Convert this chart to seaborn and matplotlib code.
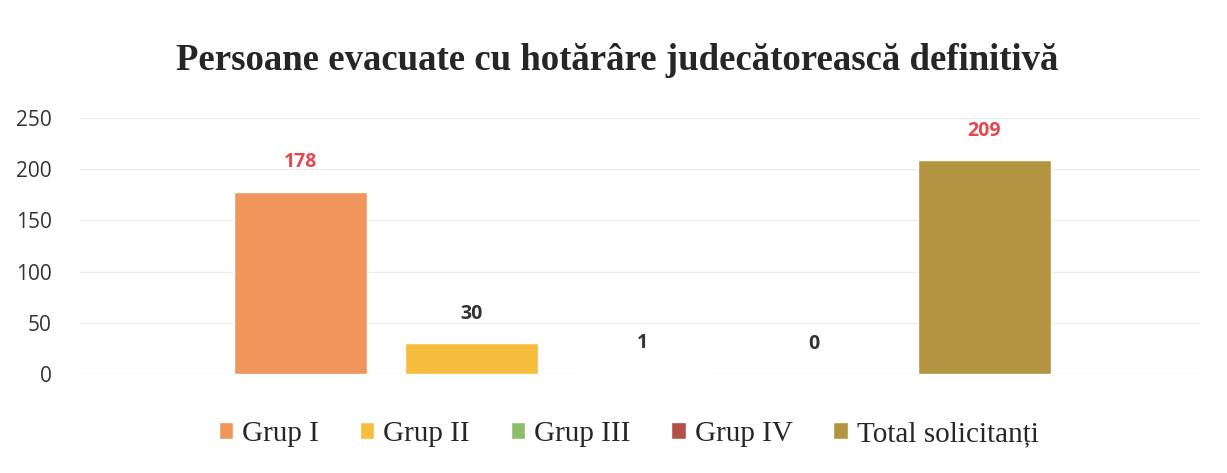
import pandas as pd
import seaborn as sns
import matplotlib.pyplot as plt

# date din grafic
grupuri = ['Grup I', 'Grup II', 'Grup III', 'Grup IV', 'Total solicitanți']
valori = [178, 30, 1, 0, 209]
culori = ['#f0955c', '#f7bd3d', '#8dbd68', '#b4504a', '#b39440']
culori_etichete = ['#e8474c', '#333333', '#333333', '#333333', '#e8474c']
yticks = [0, 50, 100, 150, 200, 250]

df = pd.DataFrame({'grup': grupuri, 'valoare': valori})

sns.set_theme(style='white')
plt.rcParams['font.family'] = ['Open Sans', 'DejaVu Sans']

fig = plt.figure(figsize=(12.27, 4.73), dpi=100)
ax = fig.add_axes([0.065, 0.21, 0.913, 0.54])

sns.barplot(data=df, x='grup', y='valoare', hue='grup', palette=culori,
            width=0.78, legend=True, ax=ax, saturation=1)

for cont, c in zip(ax.containers, culori_etichete):
    ax.bar_label(cont, padding=14, color=c, fontsize=14, fontweight='bold')

ax.set_ylim(0, 250)
ax.set_xlim(-1.29, 5.26)
ax.set_yticks(yticks)
ax.tick_params(axis='y', labelsize=15, colors='#333333', pad=20, length=0)
ax.set_xticks([])
ax.set_xlabel('')
ax.set_ylabel('')
ax.grid(axis='y', color='#ececec', linewidth=1)
ax.set_axisbelow(True)
sns.despine(ax=ax, left=True, bottom=True)

fig.suptitle('Persoane evacuate cu hotărâre judecătorească definitivă',
             family='Liberation Serif', fontweight='bold', fontsize=26.5,
             x=0.503, y=0.91)

sns.move_legend(ax, 'lower center', bbox_to_anchor=(0.49, -0.39), ncol=5,
                frameon=False, title=None,
                prop={'family': 'Liberation Serif', 'size': 21},
                handlelength=0.5, handleheight=0.5, handletextpad=0.3,
                columnspacing=1.4)

fig.savefig('out.png', dpi=100, facecolor='white')
